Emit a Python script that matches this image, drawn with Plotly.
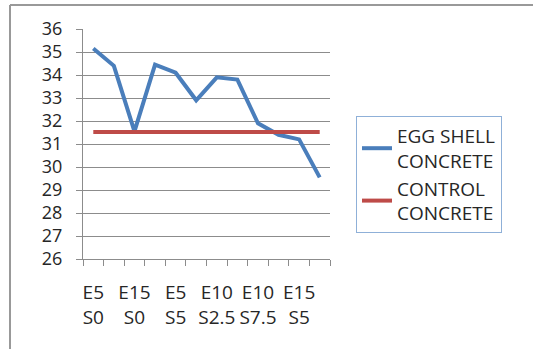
import plotly.graph_objects as go

# Mix designs (E = egg shell %, S = second replacement %)
categories = ["E5 S0", "E10 S0", "E15 S0", "E5 S2.5", "E5 S5", "E5 S7.5",
              "E10 S2.5", "E10 S5", "E10 S7.5", "E15 S2.5", "E15 S5", "E15 S7.5"]
egg_shell = [35.15, 34.4, 31.55, 34.45, 34.1, 32.9, 33.9, 33.8, 31.9, 31.4, 31.2, 29.55]
control = [31.52] * len(categories)
y_ticks = list(range(26, 37))

W, H = 533, 349
L, R, T, B = 83, 203, 29, 90
pw, ph = W - L - R, H - T - B


def px(x):
    return (x - L) / pw


def py(y):
    return (H - B - y) / ph


xs = list(range(len(categories)))
font = "Open Sans, Liberation Sans, sans-serif"
grid = "#8c8c8c"
text_col = "#262626"

fig = go.Figure()
fig.add_trace(go.Scatter(x=xs, y=egg_shell, mode="lines", name="EGG SHELL<br>CONCRETE",
                         line=dict(color="#4a7ebb", width=4)))
fig.add_trace(go.Scatter(x=xs, y=control, mode="lines", name="CONTROL<br>CONCRETE",
                         line=dict(color="#be4b48", width=4)))

shown = xs[::2]
fig.update_xaxes(
    range=[-0.5, len(categories) - 0.5],
    tickmode="array", tickvals=shown,
    ticktext=[categories[i].replace(" ", "<br>") for i in shown],
    ticks="", showgrid=False, zeroline=False,
    showline=True, linecolor=grid, linewidth=1,
    ticklabelstandoff=16,
    tickfont=dict(family=font, size=19, color=text_col),
    minor=dict(ticks="outside", tick0=-0.5, dtick=1, ticklen=6, tickcolor=grid, showgrid=False),
)
fig.update_yaxes(
    range=[26, 36], tickmode="array", tickvals=y_ticks,
    ticks="outside", ticklen=6, tickcolor=grid,
    showgrid=True, gridcolor=grid, gridwidth=1, zeroline=False,
    showline=True, linecolor=grid, linewidth=1,
    ticklabelstandoff=10,
    tickfont=dict(family=font, size=18, color=text_col),
)

# Outer frame edges (top and left)
frame = dict(type="line", xref="paper", yref="paper", line=dict(color="#999999", width=2))
fig.add_shape(**frame, x0=px(10), y0=py(5), x1=px(W + 5), y1=py(5))
fig.add_shape(**frame, x0=px(10), y0=py(5), x1=px(10), y1=py(H + 5))

fig.update_layout(
    width=W, height=H,
    margin=dict(l=L, r=R, t=T, b=B),
    paper_bgcolor="white", plot_bgcolor="white",
    showlegend=True,
    legend=dict(x=px(356), y=py(116), xanchor="left", yanchor="top",
                bordercolor="#8fb0d8", borderwidth=1, bgcolor="white",
                font=dict(family=font, size=19, color=text_col),
                tracegroupgap=8, itemwidth=30),
)

fig.write_html("out.html")
